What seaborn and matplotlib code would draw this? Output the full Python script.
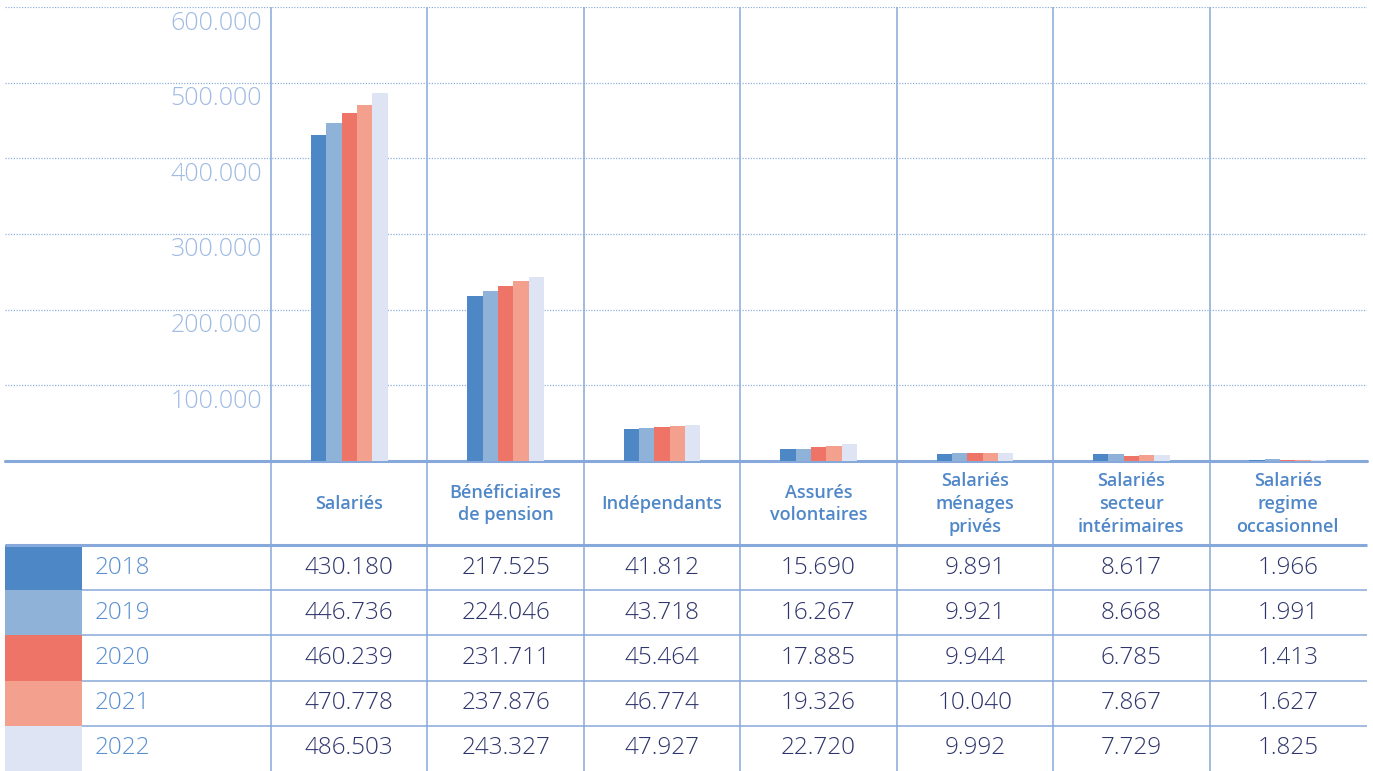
import numpy as np
import pandas as pd
import seaborn as sns
import matplotlib.pyplot as plt
from matplotlib.patches import Rectangle

# data
categories = ["Salariés", "Bénéficiaires\nde pension", "Indépendants", "Assurés\nvolontaires",
              "Salariés\nménages\nprivés", "Salariés\nsecteur\nintérimaires", "Salariés\nregime\noccasionnel"]
years = ["2018", "2019", "2020", "2021", "2022"]
v2018 = [430180, 217525, 41812, 15690, 9891, 8617, 1966]
v2019 = [446736, 224046, 43718, 16267, 9921, 8668, 1991]
v2020 = [460239, 231711, 45464, 17885, 9944, 6785, 1413]
v2021 = [470778, 237876, 46774, 19326, 10040, 7867, 1627]
v2022 = [486503, 243327, 47927, 22720, 9992, 7729, 1825]
yticks = [100000, 200000, 300000, 400000, 500000, 600000]
colors = ["#4e87c6", "#8fb2d9", "#ee7468", "#f3a08f", "#dfe4f5"]

series = [v2018, v2019, v2020, v2021, v2022]
df = pd.DataFrame([(c, y, v) for y, vals in zip(years, series) for c, v in zip(categories, vals)],
                  columns=["cat", "year", "value"])

def fmt(v):
    return f"{v:,}".replace(",", ".")

sns.set_style("white")
plt.rcParams['font.family'] = ['Open Sans', 'DejaVu Sans']

W, H = 1373, 771
fig = plt.figure(figsize=(W / 100, H / 100), dpi=100)

# pixel layout
x_left, x_right = 5, 1367
col0, colw = 271, 156.43
y_top, y_zero = 7, 461
grid_c = "#8fb0de"
line_c = "#87a8da"

# table / overlay in pixel coords (behind the chart)
tx = fig.add_axes([0, 0, 1, 1], zorder=1)
tx.set_xlim(0, W)
tx.set_ylim(H, 0)
tx.axis("off")

for i in range(len(categories)):
    tx.plot([col0 + i * colw] * 2, [y_top, H], color=line_c, lw=1.1, solid_capstyle="butt")

row_top = 545
row_h = 45.2
for r, c in enumerate(colors):
    tx.add_patch(Rectangle((x_left, row_top + r * row_h), 77, row_h, color=c, lw=0))
tx.plot([x_left, x_right], [row_top, row_top], color=line_c, lw=2.2, solid_capstyle="butt")
for r in range(1, len(years)):
    yy = row_top + r * row_h
    tx.plot([82, x_right], [yy, yy], color=line_c, lw=1.1, solid_capstyle="butt")

# header
for i, c in enumerate(categories):
    tx.text(col0 + (i + 0.5) * colw, 504, c, ha="center", va="center", fontsize=13,
            color="#4f87c8", fontweight="semibold", linespacing=1.35)

# rows
for r, (y, vals) in enumerate(zip(years, series)):
    yc = row_top + (r + 0.5) * row_h
    tx.text(95, yc, y, ha="left", va="center", fontsize=17.5, color="#5b90d0",
            fontweight="light")
    for i, v in enumerate(vals):
        tx.text(col0 + (i + 0.5) * colw, yc, fmt(v), ha="center", va="center",
                fontsize=17.5, color="#2e356b", fontweight="light")

# bar chart on top
ax = fig.add_axes([x_left / W, (H - y_zero) / H, (x_right - x_left) / W, (y_zero - y_top) / H],
                  zorder=2)
ax.patch.set_alpha(0)
sns.barplot(data=df, x="cat", y="value", hue="year", order=categories, hue_order=years,
            palette=colors, width=0.49, ax=ax, legend=False, saturation=1, zorder=3,
            linewidth=0)
ax.set_xlim(-0.5 - (col0 - x_left) / colw, -0.5 + (x_right - col0) / colw)
ax.set_ylim(0, 600000)
ax.set_xticks([])
ax.set_yticks([])
ax.set_xlabel("")
ax.set_ylabel("")
for s in ax.spines.values():
    s.set_visible(False)
for t in yticks:
    ax.axhline(t, color=grid_c, lw=0.9, ls=(0, (1, 1.2)), zorder=1)
    ax.annotate(fmt(t), xy=(-0.5, t), xytext=(-9, -16), textcoords="offset pixels",
                ha="right", va="center", fontsize=18, color="#a0bbe3", fontweight="light")
ax.axhline(0, color=line_c, lw=2.2, zorder=2, clip_on=False)

fig.savefig("out.png", dpi=100)
